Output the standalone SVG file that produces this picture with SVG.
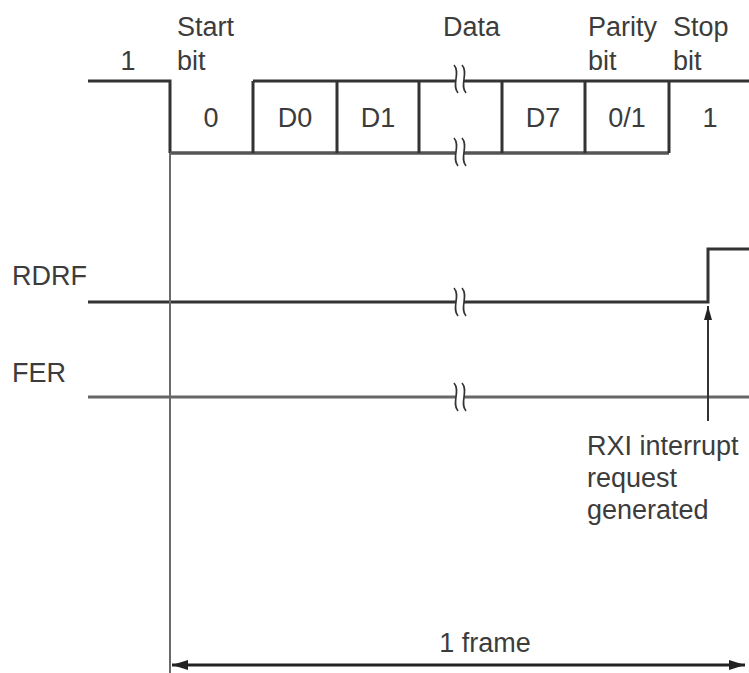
<svg xmlns="http://www.w3.org/2000/svg" width="749" height="673" viewBox="0 0 749 673">
<style>
text{font-family:"Liberation Sans",Arial,sans-serif;font-size:27px;fill:#3c3c3c}
.c{text-anchor:middle}
.w{fill:none;stroke:#333;stroke-width:3}
.g{fill:none;stroke:#666;stroke-width:3}
.b{fill:none;stroke:#333;stroke-width:1.6}
.gap{fill:#fff;stroke:none}
</style>
<defs>
<marker id="ah" viewBox="0 0 16 10" refX="16" refY="5" markerWidth="16" markerHeight="10" markerUnits="userSpaceOnUse" orient="auto-start-reverse">
<path d="M0,0 L16,5 L0,10 z" fill="#222"/>
</marker>
<marker id="ahs" viewBox="0 0 14 8" refX="14" refY="4" markerWidth="14" markerHeight="8" markerUnits="userSpaceOnUse" orient="auto">
<path d="M0,0 L14,4 L0,8 z" fill="#222"/>
</marker>
<g id="brk">
<path class="gap" d="M-4,-14 C3,-6 -7,6 0,14 L8,14 C1,6 11,-6 4,-14 z"/>
<path class="b" d="M-4,-14 C3,-6 -7,6 0,14"/>
<path class="b" d="M4,-14 C11,-6 1,6 8,14"/>
</g>
</defs>
<g id="labels">
<text x="128" y="70" class="c">1</text>
<text x="177" y="36">Start</text>
<text x="177" y="70">bit</text>
<text x="443" y="36">Data</text>
<text x="588" y="36">Parity</text>
<text x="588" y="70">bit</text>
<text x="673" y="36">Stop</text>
<text x="673" y="70">bit</text>
<text x="12" y="285">RDRF</text>
<text x="12" y="382">FER</text>
</g>
<g id="frame-data">
<path class="w" d="M88,81 H170 V153"/>
<path d="M170,153 H669" fill="none" stroke="#555" stroke-width="3.5"/>
<path class="w" d="M253,81 H749"/>
<path class="w" d="M253,81 V153 M337,81 V153 M419,81 V153 M502,81 V153 M585,81 V153 M669,81 V153"/>
<use href="#brk" x="458" y="79"/>
<use href="#brk" x="458" y="152"/>
<text x="211" y="127" class="c">0</text>
<text x="295" y="127" class="c">D0</text>
<text x="378" y="127" class="c">D1</text>
<text x="543" y="127" class="c">D7</text>
<text x="627" y="127" class="c">0/1</text>
<text x="710" y="127" class="c">1</text>
</g>
<g id="rdrf">
<path class="w" d="M88,302 H708 V249 H749"/>
<use href="#brk" x="458" y="302"/>
</g>
<g id="fer">
<path class="g" d="M88,397 H749"/>
<use href="#brk" x="458" y="397"/>
</g>
<g id="connectors">
<path d="M170,153 V673" fill="none" stroke="#6a6a6a" stroke-width="2"/>
<path d="M708,421 V306" fill="none" stroke="#333" stroke-width="2" marker-end="url(#ahs)"/>
<path d="M172,665 H745" fill="none" stroke="#222" stroke-width="3" marker-start="url(#ah)" marker-end="url(#ah)"/>
</g>
<g id="rxi">
<text x="587" y="455">RXI interrupt</text>
<text x="587" y="487">request</text>
<text x="587" y="519">generated</text>
</g>
<text x="485" y="652" class="c">1 frame</text>
</svg>
